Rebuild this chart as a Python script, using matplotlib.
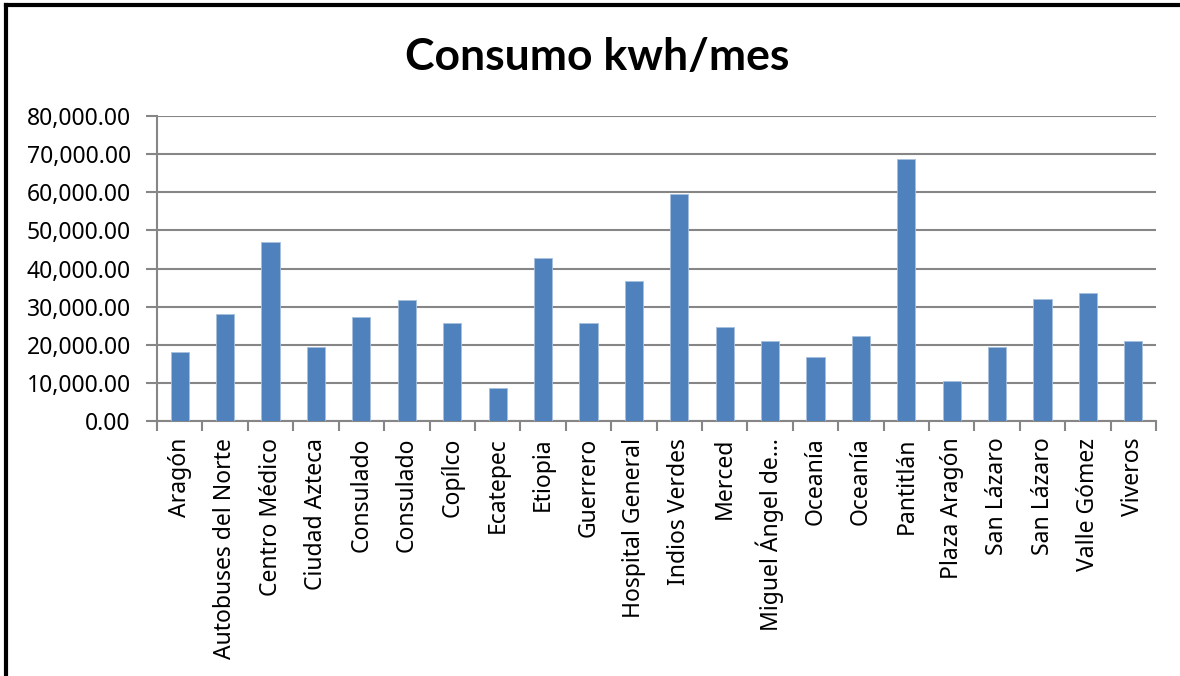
import numpy as np
import matplotlib
matplotlib.use("Agg")
import matplotlib.pyplot as plt
from matplotlib.lines import Line2D
from matplotlib.ticker import FuncFormatter

# Datos
estaciones = ['Aragón', 'Autobuses del Norte', 'Centro Médico', 'Ciudad Azteca',
              'Consulado', 'Consulado', 'Copílco', 'Ecatepec', 'Etiopia', 'Guerrero',
              'Hospital General', 'Indios Verdes', 'Merced', 'Miguel Ángel de…',
              'Oceanía', 'Oceanía', 'Pantitlán', 'Plaza Aragón', 'San Lázaro',
              'San Lázaro', 'Valle Gómez', 'Viveros']
consumo = [18100, 28150, 46950, 19500, 27400, 31800, 25700, 8750, 42700, 25700,
           36600, 59600, 24600, 21000, 16700, 22200, 68800, 10400, 19400, 31900,
           33600, 20900]
yticks = np.arange(0, 80001, 10000)

plt.rcParams['font.family'] = ['Noto Sans', 'DejaVu Sans']

fig = plt.figure(figsize=(11.8, 6.76), dpi=100)
ax = fig.add_axes([0.1331, 0.3772, 0.8466, 0.4512])

x = np.arange(len(estaciones))
ax.bar(x, consumo, width=0.4, color='#4F81BD', edgecolor='#A7C0DE', linewidth=0.6, zorder=3)

ax.set_xlim(-0.5, len(estaciones) - 0.5)
ax.set_ylim(0, 80000)
ax.set_yticks(yticks)
ax.yaxis.set_major_formatter(FuncFormatter(lambda v, p: f'{v:,.2f}'))
ax.grid(axis='y', color='#868686', linewidth=1.5, zorder=0)

# marcas entre categorias
ax.set_xticks(np.arange(-0.5, len(estaciones), 1.0))
ax.set_xticklabels([])
ax.set_xticks(x, minor=True)
ax.set_xticklabels(estaciones, minor=True, rotation=90, fontsize=16.5, va='top', ha='center')
ax.tick_params(axis='x', which='minor', length=0, pad=12)
ax.tick_params(axis='x', which='major', length=7, width=1.5, color='#868686')
ax.tick_params(axis='y', length=8, width=1.5, color='#868686', labelsize=16.5, pad=11)

for s in ['top', 'right']:
    ax.spines[s].set_visible(False)
for s in ['left', 'bottom']:
    ax.spines[s].set_color('#868686')
    ax.spines[s].set_linewidth(1.5)

fig.text(0.506, 0.915, 'Consumo kwh/mes', ha='center', va='center',
         fontsize=32, fontweight='bold', family=['Lato', 'DejaVu Sans'])

# marco del gráfico
fig.add_artist(Line2D([6 / 1180, 1], [1 - 5 / 676, 1 - 5 / 676], color='black', lw=3,
                      transform=fig.transFigure))
fig.add_artist(Line2D([6 / 1180, 6 / 1180], [0, 1 - 5 / 676], color='black', lw=3,
                      transform=fig.transFigure))

fig.savefig('out.png', dpi=100)
